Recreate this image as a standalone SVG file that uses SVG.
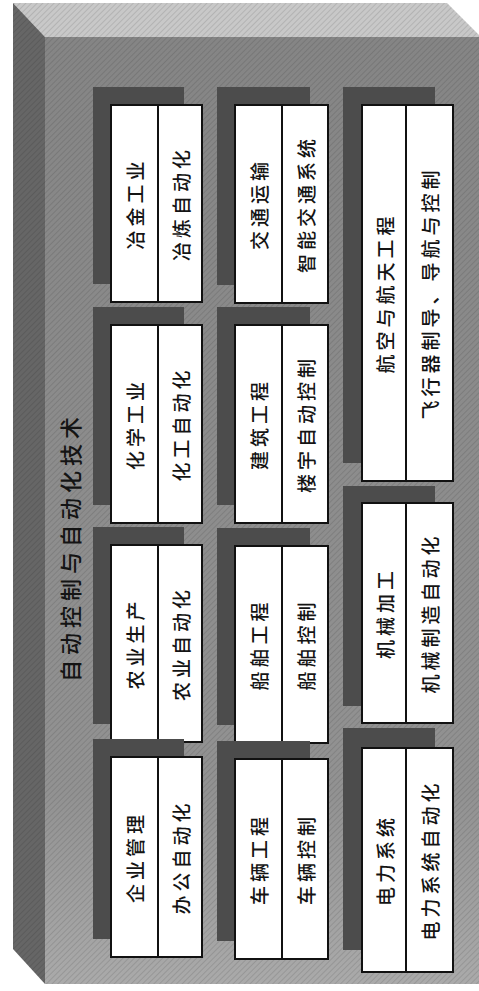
<svg xmlns="http://www.w3.org/2000/svg" width="479" height="991" viewBox="0 0 479 991">
  <defs>
    <pattern id="hatch" width="4" height="4" patternUnits="userSpaceOnUse" patternTransform="rotate(45)">
      <rect width="4" height="4" fill="none"/>
      <line x1="0" y1="0" x2="0" y2="4" stroke="#000" stroke-opacity="0.14" stroke-width="1.5"/>
    </pattern>
    <linearGradient id="frontGrad" x1="0" y1="0" x2="0" y2="1">
      <stop offset="0" stop-color="#858585"/>
      <stop offset="0.8" stop-color="#929292"/>
      <stop offset="1" stop-color="#aaaaaa"/>
    </linearGradient>
  </defs>
  <style>
    .shadow { fill: #4c4c4c; }
    .box { fill: #ffffff; stroke: #111; stroke-width: 2; }
    .div { stroke: #111; stroke-width: 2; }
    .lbl { font-family: "Noto Sans CJK SC", "Noto Sans", sans-serif; font-size: 19px; font-weight: 500; letter-spacing: 4px; fill: #141414; text-anchor: middle; dominant-baseline: central; }
    .title { font-family: "Noto Sans CJK SC", "Noto Sans", sans-serif; font-size: 22px; font-weight: 500; letter-spacing: 5px; fill: #141414; text-anchor: middle; dominant-baseline: central; }
  </style>

  <g id="container">
    <polygon points="13,3 447,3 479,35 479,37 45,37" fill="#c8c8c8"/>
    <polygon points="13,3 45,37 45,984 13,949" fill="#666666"/>
    <rect x="45" y="37" width="434" height="947" fill="url(#frontGrad)"/>
    <polygon points="13,3 447,3 479,35 479,984 45,984 13,949" fill="url(#hatch)"/>
    <text class="title" transform="rotate(-90 69 547)" x="69" y="547">自动控制与自动化技术</text>
  </g>

  <g id="connectors"></g>

  <!-- Column 1 -->
  <g id="n-yejin">
    <rect class="shadow" x="93" y="87" width="91" height="197"/>
    <rect class="box" x="111" y="105" width="91" height="197"/>
    <line class="div" x1="158" y1="105" x2="158" y2="302"/>
    <text class="lbl" transform="rotate(-90 134.5 203.5)" x="134.5" y="203.5">冶金工业</text>
    <text class="lbl" transform="rotate(-90 180 203.5)" x="180" y="203.5">冶炼自动化</text>
  </g>
  <g id="n-huaxue">
    <rect class="shadow" x="93" y="307" width="91" height="198"/>
    <rect class="box" x="111" y="325" width="91" height="198"/>
    <line class="div" x1="158" y1="325" x2="158" y2="523"/>
    <text class="lbl" transform="rotate(-90 134.5 424)" x="134.5" y="424">化学工业</text>
    <text class="lbl" transform="rotate(-90 180 424)" x="180" y="424">化工自动化</text>
  </g>
  <g id="n-nongye">
    <rect class="shadow" x="93" y="527" width="91" height="197"/>
    <rect class="box" x="111" y="545" width="91" height="197"/>
    <line class="div" x1="158" y1="545" x2="158" y2="742"/>
    <text class="lbl" transform="rotate(-90 134.5 643.5)" x="134.5" y="643.5">农业生产</text>
    <text class="lbl" transform="rotate(-90 180 643.5)" x="180" y="643.5">农业自动化</text>
  </g>
  <g id="n-qiye">
    <rect class="shadow" x="93" y="739" width="91" height="200"/>
    <rect class="box" x="111" y="757" width="91" height="200"/>
    <line class="div" x1="158" y1="757" x2="158" y2="957"/>
    <text class="lbl" transform="rotate(-90 134.5 857)" x="134.5" y="857">企业管理</text>
    <text class="lbl" transform="rotate(-90 180 857)" x="180" y="857">办公自动化</text>
  </g>

  <!-- Column 2 -->
  <g id="n-jiaotong">
    <rect class="shadow" x="217" y="87" width="93" height="198"/>
    <rect class="box" x="235" y="105" width="93" height="198"/>
    <line class="div" x1="282" y1="105" x2="282" y2="303"/>
    <text class="lbl" transform="rotate(-90 258.5 204)" x="258.5" y="204">交通运输</text>
    <text class="lbl" transform="rotate(-90 305 204)" x="305" y="204">智能交通系统</text>
  </g>
  <g id="n-jianzhu">
    <rect class="shadow" x="217" y="307" width="93" height="198"/>
    <rect class="box" x="235" y="325" width="93" height="198"/>
    <line class="div" x1="282" y1="325" x2="282" y2="523"/>
    <text class="lbl" transform="rotate(-90 258.5 424)" x="258.5" y="424">建筑工程</text>
    <text class="lbl" transform="rotate(-90 305 424)" x="305" y="424">楼宇自动控制</text>
  </g>
  <g id="n-chuanbo">
    <rect class="shadow" x="217" y="528" width="93" height="197"/>
    <rect class="box" x="235" y="546" width="93" height="197"/>
    <line class="div" x1="282" y1="546" x2="282" y2="743"/>
    <text class="lbl" transform="rotate(-90 258.5 644.5)" x="258.5" y="644.5">船舶工程</text>
    <text class="lbl" transform="rotate(-90 305 644.5)" x="305" y="644.5">船舶控制</text>
  </g>
  <g id="n-cheliang">
    <rect class="shadow" x="217" y="741" width="93" height="200"/>
    <rect class="box" x="235" y="759" width="93" height="200"/>
    <line class="div" x1="282" y1="759" x2="282" y2="959"/>
    <text class="lbl" transform="rotate(-90 258.5 859)" x="258.5" y="859">车辆工程</text>
    <text class="lbl" transform="rotate(-90 305 859)" x="305" y="859">车辆控制</text>
  </g>

  <!-- Column 3 -->
  <g id="n-hangkong">
    <rect class="shadow" x="343" y="87" width="92" height="376"/>
    <rect class="box" x="362" y="105" width="91" height="376"/>
    <line class="div" x1="406" y1="105" x2="406" y2="481"/>
    <text class="lbl" transform="rotate(-90 384 293)" x="384" y="293">航空与航天工程</text>
    <text class="lbl" transform="rotate(-90 429.5 293)" x="429.5" y="293">飞行器制导、导航与控制</text>
  </g>
  <g id="n-jixie">
    <rect class="shadow" x="343" y="486" width="92" height="220"/>
    <rect class="box" x="362" y="503" width="91" height="220"/>
    <line class="div" x1="406" y1="503" x2="406" y2="723"/>
    <text class="lbl" transform="rotate(-90 384 613)" x="384" y="613">机械加工</text>
    <text class="lbl" transform="rotate(-90 429.5 613)" x="429.5" y="613">机械制造自动化</text>
  </g>
  <g id="n-dianli">
    <rect class="shadow" x="343" y="728" width="92" height="222"/>
    <rect class="box" x="362" y="748" width="91" height="224"/>
    <line class="div" x1="406" y1="748" x2="406" y2="972"/>
    <text class="lbl" transform="rotate(-90 384 860)" x="384" y="860">电力系统</text>
    <text class="lbl" transform="rotate(-90 429.5 860)" x="429.5" y="860">电力系统自动化</text>
  </g>
</svg>
